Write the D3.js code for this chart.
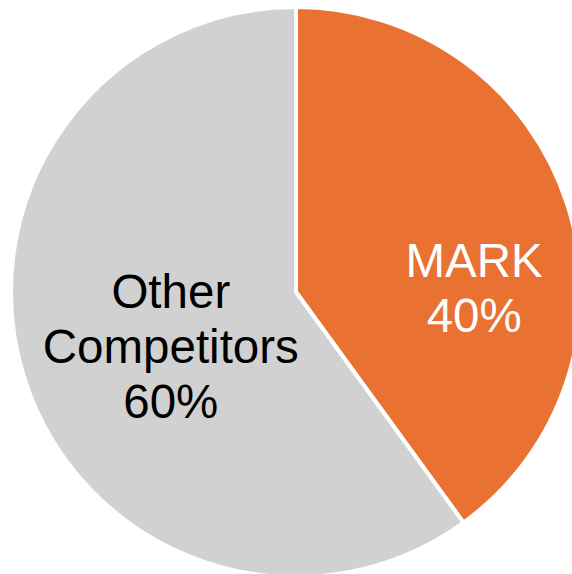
<!DOCTYPE html>
<html>
<head>
<meta charset="utf-8">
<script src="https://cdn.jsdelivr.net/npm/d3@7/dist/d3.min.js"></script>
<style>
  html, body { margin: 0; padding: 0; background: #ffffff; }
  svg { display: block; }
</style>
</head>
<body>
<div id="chart"></div>
<script>
const categories = ["MARK", "Other Competitors"];
const values = [40, 60];
const labelLines = [["MARK", "40%"], ["Other", "Competitors", "60%"]];
const colors = ["#E97132", "#D1D1D1"];
const labelColors = ["#FFFFFF", "#000000"];

const W = 572, H = 574;
const cx = 296, cy = 292, R = 285;

const svg = d3.select("#chart").append("svg")
  .attr("width", W).attr("height", H);

const g = svg.append("g").attr("transform", `translate(${cx},${cy})`);

const pie = d3.pie().sort(null).value(d => d.value);
const arcs = pie(categories.map((c, i) => ({ name: c, value: values[i], i })));
const arc = d3.arc().innerRadius(0).outerRadius(R);

g.selectAll("path.slice").data(arcs).enter().append("path")
  .attr("class", "slice")
  .attr("d", arc)
  .attr("fill", d => colors[d.data.i])
  .attr("stroke", "#ffffff")
  .attr("stroke-width", 4)
  .attr("stroke-linejoin", "round");

// label anchor: centroid of a label arc, then nudged like the original layout
const labelArc = d3.arc().innerRadius(0).outerRadius(R * 1.3);
const nudges = [[2, 53], [51, -3]];
const lineH = 55, fs = 47.5;

arcs.forEach((d, k) => {
  const c = labelArc.centroid(d);
  const lines = labelLines[k];
  const x = c[0] + nudges[k][0];
  const yMid = c[1] + nudges[k][1];
  const t = g.append("text")
    .attr("text-anchor", "middle")
    .attr("font-family", "Liberation Sans, Arial, sans-serif")
    .attr("font-size", fs)
    .attr("fill", labelColors[k]);
  const n = lines.length;
  lines.forEach((ln, j) => {
    t.append("tspan")
      .attr("x", x)
      .attr("y", yMid + (j - (n - 1) / 2) * lineH + fs * 0.358)
      .text(ln);
  });
});
</script>
</body>
</html>
